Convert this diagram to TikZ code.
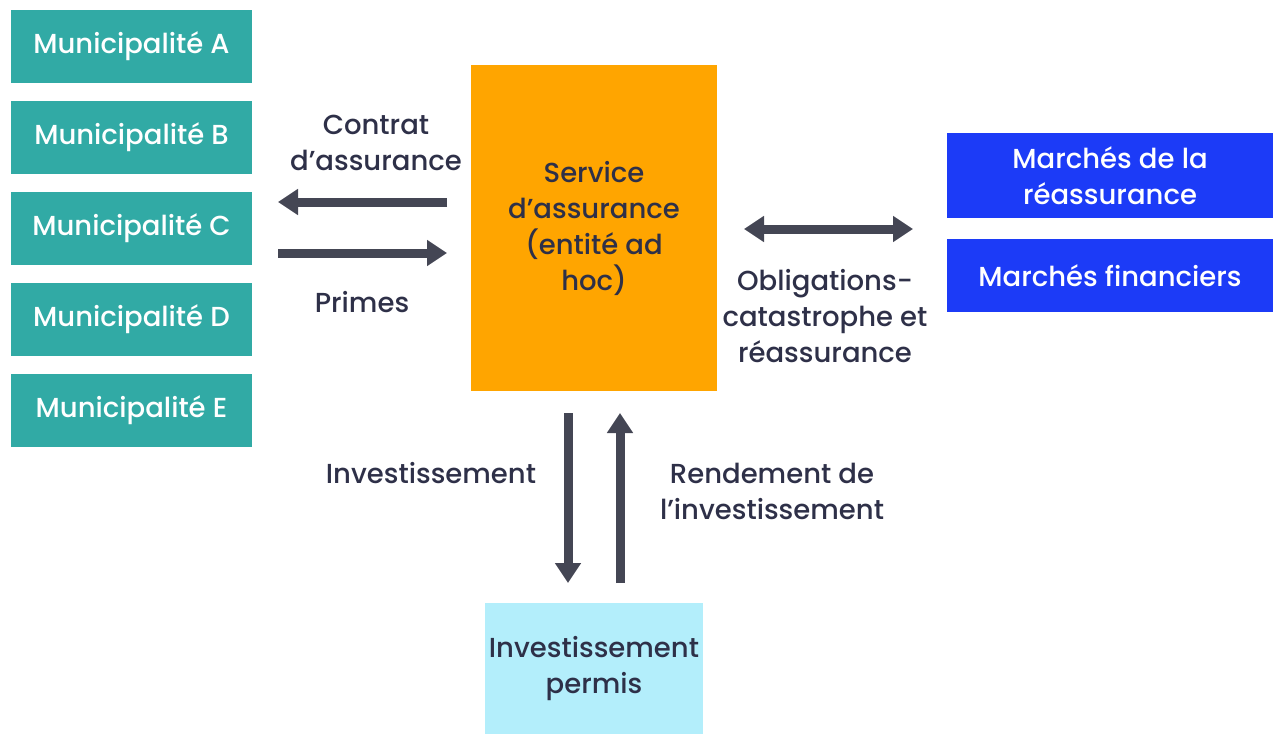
\documentclass[tikz,border=0pt]{standalone}
\usepackage{fontspec}
\setmainfont{Poppins}[UprightFont={* Medium}]
\usetikzlibrary{arrows.meta}
\definecolor{teal1}{HTML}{31AAA5}
\definecolor{orange1}{HTML}{FFA500}
\definecolor{blue1}{HTML}{1C3BF7}
\definecolor{lblue}{HTML}{B3EEFB}
\definecolor{txt}{HTML}{2E3048}
\definecolor{arr}{HTML}{444654}
\tikzset{
  muni/.style={fill=teal1, text=white, minimum width=241pt, minimum height=73pt, inner sep=0pt, font=\fontsize{27.5}{36}\selectfont},
  bigbox/.style={inner sep=0pt, align=center, text=txt, font=\fontsize{27.5}{36}\selectfont},
  lbl/.style={align=center, text=txt, font=\fontsize{27.5}{36}\selectfont, inner sep=0pt},
  flow/.style={draw=arr, line width=9pt, -{Triangle[length=20pt,width=25pt]}},
  flow2/.style={draw=arr, line width=9pt, {Triangle[length=20pt,width=25pt]}-{Triangle[length=20pt,width=25pt]}},
}
\begin{document}
\begin{tikzpicture}[x=1pt,y=-1pt]
\useasboundingbox (0,0) rectangle (1273,734);
\node[muni] (ma) at (131.5,46.5) {Municipalité A};
\node[muni] (mb) at (131.5,137.5) {Municipalité B};
\node[muni] (mc) at (131.5,228.5) {Municipalité C};
\node[muni] (md) at (131.5,319.5) {Municipalité D};
\node[muni] (me) at (131.5,410.5) {Municipalité E};
\node[bigbox, fill=orange1, minimum width=246pt, minimum height=326pt] (svc) at (594,228) {Service\\d’assurance\\(entité ad\\hoc)};
\node[bigbox, fill=blue1, text=white, minimum width=326pt, minimum height=85pt] (reas) at (1110,175.5) {Marchés de la\\réassurance};
\node[bigbox, fill=blue1, text=white, minimum width=326pt, minimum height=73pt] (fin) at (1110,275.5) {Marchés financiers};
\node[bigbox, fill=lblue, minimum width=218pt, minimum height=131pt] (inv) at (594,668.5) {Investissement\\permis};
\node[lbl] (contrat) at (376,143) {Contrat\\d’assurance};
\node[lbl] (primes) at (362,302) {Primes};
\node[lbl] (oblig) at (825,316) {Obligations-\\catastrophe et\\réassurance};
\node[lbl] (invl) at (431,473) {Investissement};
\node[lbl] (rend) at (772,491) {Rendement de\\l’investissement};
\coordinate (a1s) at (447,202);
\coordinate (a1e) at (278,202);
\coordinate (a2s) at (278,253);
\coordinate (a2e) at (447,253);
\coordinate (a3s) at (744,229);
\coordinate (a3e) at (913,229);
\coordinate (a4s) at (568,413);
\coordinate (a4e) at (568,583);
\coordinate (a5s) at (620,583);
\coordinate (a5e) at (620,413);
\draw[flow] (a1s) -- (a1e);
\draw[flow] (a2s) -- (a2e);
\draw[flow2] (a3s) -- (a3e);
\draw[flow] (a4s) -- (a4e);
\draw[flow] (a5s) -- (a5e);
\end{tikzpicture}
\end{document}
